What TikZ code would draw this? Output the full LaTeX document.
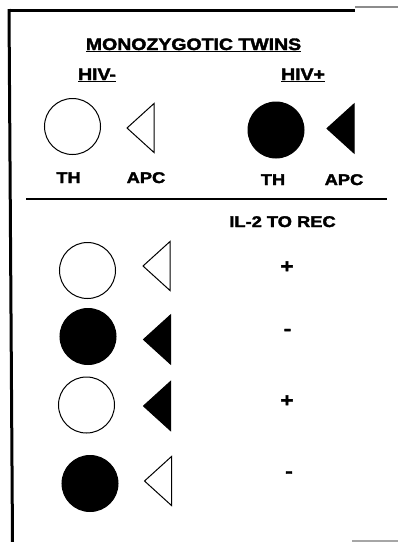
\documentclass[tikz,border=0pt]{standalone}
\usepackage{fontspec}
\setmainfont[FakeStretch=1.18,BoldFeatures={FakeBold=2.2}]{Liberation Sans}
\begin{document}
\begin{tikzpicture}[x=1pt,y=-1pt,
  lbl/.style={font=\bfseries\fontsize{16.5}{18}\selectfont,inner sep=0pt,anchor=base},
  sml/.style={font=\bfseries\fontsize{15.5}{17}\selectfont,inner sep=0pt,anchor=base},
  sgn/.style={font=\bfseries\fontsize{19}{20}\selectfont,inner sep=0pt,anchor=center},
  thopen/.style={circle,draw=black,line width=1pt,minimum size=56pt,inner sep=0pt},
  thfill/.style={circle,draw=black,fill=black,line width=1pt,minimum size=56pt,inner sep=0pt},
  apcopen/.style={draw=black,line width=1pt,line join=miter},
  apcfill/.style={draw=black,fill=black,line width=1pt,line join=miter},
  frame/.style={line width=3pt,black},
  pics/apc/.style={code={\path[#1] (-13.5,0) -- (13.5,-24.5) -- (13.5,24.5) -- cycle;}}
]
\useasboundingbox (0,0) rectangle (398,542);
% frame
\draw[frame] (8.5,10.5) -- (355,10.5);
\draw[black!45,line width=1.5pt] (355,7) -- (398,7);
\draw[frame] (9,9) -- (12.5,542);
\draw[black!35,line width=1.5pt] (352,541) -- (398,541);
% headings
\node[lbl] (title) at (193.5,50) {\underline{MONOZYGOTIC TWINS}};
\node[lbl] (neg) at (97,80) {\underline{HIV-}};
\node[lbl] (pos) at (303,80) {\underline{HIV+}};
% top symbols
\node[thopen] (th1) at (72.5,126.5) {};
\pic at (140.5,128) {apc=apcopen};
\node[thfill] (th2) at (276,130) {};
\pic at (340.5,128.5) {apc=apcfill};
\node[sml] (thl) at (68.5,183) {TH};
\node[sml] (apcl) at (146,183) {APC};
\node[sml] (thr) at (273,185) {TH};
\node[sml] (apcr) at (344,185) {APC};
% separator
\coordinate (sepl) at (26,199);
\coordinate (sepr) at (387,199);
\draw[line width=1.2pt] (sepl) -- (sepr);
\node[sml] (il2) at (282.5,227) {IL-2 TO REC};
% rows
\node[thopen] (r1c) at (87.5,270.5) {};
\pic at (156.5,266) {apc=apcopen};
\node[sgn] (r1s) at (287,267) {+};
\node[thfill] (r2c) at (88,336.5) {};
\pic at (157,339.5) {apc=apcfill};
\node[sgn] (r2s) at (287.5,332) {-};
\node[thopen] (r3c) at (86.5,405) {};
\pic at (157,406) {apc=apcfill};
\node[sgn] (r3s) at (287,401) {+};
\node[thfill] (r4c) at (90,483.5) {};
\pic at (158,481) {apc=apcopen};
\node[sgn] (r4s) at (289,474.5) {-};
\end{tikzpicture}
\end{document}
